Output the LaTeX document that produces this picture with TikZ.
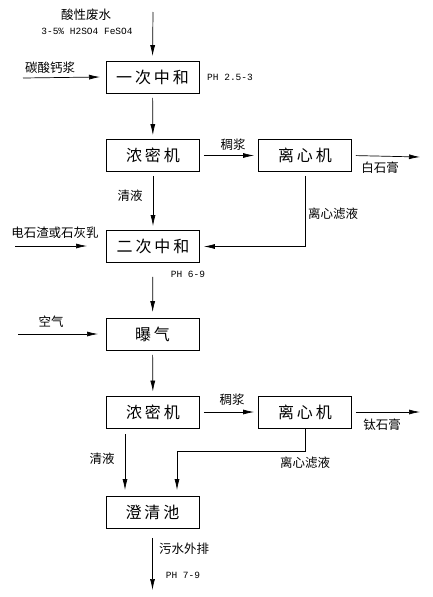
\documentclass[tikz,border=0pt]{standalone}
\usepackage{fontspec}
\setmainfont{Noto Sans CJK SC}
\setmonofont{Liberation Mono}
\newfontfamily\boxfont[LetterSpace=18]{Noto Sans CJK SC}
\usetikzlibrary{arrows.meta}

\begin{document}
\begin{tikzpicture}[x=1pt, y=-1pt,
    box/.style = {shape=rectangle, draw, line width=0.8pt, minimum width=93pt, minimum height=32pt, inner sep=0pt, font=\boxfont\fontsize{16}{18}\selectfont},
    lbl/.style = {inner sep=0pt, font=\fontsize{12.5}{14}\selectfont},
    ph/.style = {inner sep=0pt, font=\ttfamily\fontsize{9.5}{11}\selectfont},
    flow/.style = {draw, line width=0.7pt, -{Latex[length=11pt, width=5pt]}},
    gap/.style = {shorten <=4pt, shorten >=4pt}]
    \useasboundingbox (0,0) rectangle (433,597);
    % process boxes
    \node[box] (first) at (152.5,77.5) {一次中和};
    \node[box] (thick1) at (153,155.5) {浓密机};
    \node[box] (centri1) at (305,155.5) {离心机};
    \node[box] (second) at (153,246.5) {二次中和};
    \node[box] (aerate) at (152.5,334.5) {曝气};
    \node[box] (thick2) at (153,412) {浓密机};
    \node[box] (centri2) at (305,412) {离心机};
    \node[box] (clarify) at (152.5,512.5) {澄清池};
    % free ends
    \coordinate (acid) at (153,12);
    \coordinate (caco) at (23,78);
    \coordinate (white) at (420,157);
    \coordinate (limeA) at (15,246);
    \coordinate (limeB) at (87,246);
    \coordinate (airA) at (18,334);
    \coordinate (airB) at (98,334);
    \coordinate (titan) at (420,412);
    \coordinate (drain) at (152.5,590);
    % labels
    \node[lbl] (acidtxt) at (86,15) {酸性废水};
    \node[ph] (acidmix) at (87,31) {3-5\% H2SO4 FeSO4};
    \node[lbl] (cacotxt) at (50,68) {碳酸钙浆};
    \node[ph, anchor=west] (ph1) at (207,77.5) {PH 2.5-3};
    \node[lbl] (slurry1) at (233,145) {稠浆};
    \node[lbl] (whitetxt) at (380,168) {白石膏};
    \node[lbl] (clear1) at (130,196) {清液};
    \node[lbl] (filt1) at (333,214) {离心滤液};
    \node[lbl] (limetxt) at (55,233) {电石渣或石灰乳};
    \node[ph] (ph2) at (188,274) {PH 6-9};
    \node[lbl] (airtxt) at (51,322) {空气};
    \node[lbl] (slurry2) at (232,400) {稠浆};
    \node[lbl] (titantxt) at (382,425) {钛石膏};
    \node[lbl] (clear2) at (102,459) {清液};
    \node[lbl] (filt2) at (305,463) {离心滤液};
    \node[lbl] (outtxt) at (184,549) {污水外排};
    \node[ph] (ph3) at (183,575) {PH 7-9};
    % connectors
    \draw[flow, shorten >=5pt] (acid) -- (first.north);
    \draw[flow] (caco) -- ([yshift=0.5pt]first.west -| 100,0);
    \draw[flow, gap] (first) -- (thick1);
    \draw[flow, gap] (thick1) -- (centri1);
    \draw[flow, shorten <=4pt] (centri1.east) -- (white);
    \draw[flow, gap] (thick1) -- (second);
    \draw[flow, gap] (centri1.south) |- (second.east);
    \draw[flow] (limeA) -- (limeB);
    \draw[flow, shorten <=14pt, shorten >=6pt] (second) -- (aerate);
    \draw[flow] (airA) -- (airB);
    \draw[flow, gap] (aerate) -- (thick2);
    \draw[flow, gap] (thick2) -- (centri2);
    \draw[flow, shorten <=4pt] (centri2.east) -- (titan);
    \draw[flow, shorten <=6pt, shorten >=6pt] ([xshift=-28pt]thick2.south) -- ([xshift=-27.5pt]clarify.north);
    \draw[flow, shorten >=6pt] (centri2.south) -- ++(0,23) -| ([xshift=24.5pt]clarify.north);
    \draw[flow, shorten <=9pt] (clarify) -- (drain);
\end{tikzpicture}
\end{document}
